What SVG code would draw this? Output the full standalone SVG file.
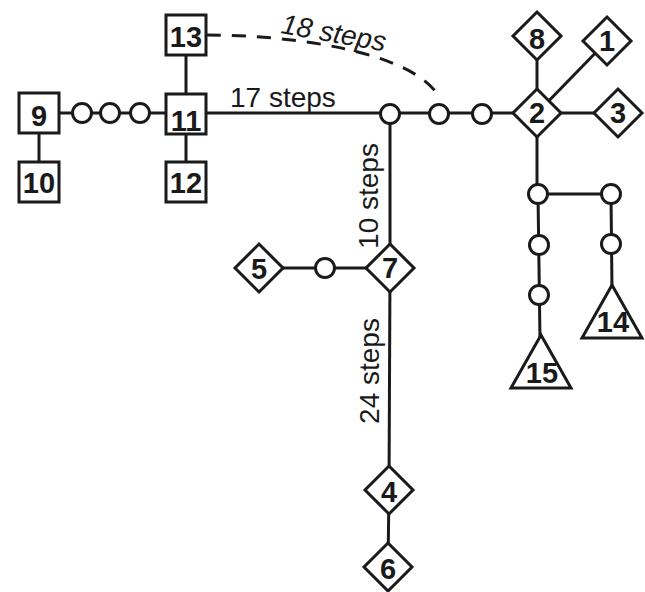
<svg xmlns="http://www.w3.org/2000/svg" width="645" height="592" viewBox="0 0 645 592">
<style>
.n{fill:#fff;stroke:#1a1a1a;stroke-width:3}
.e{stroke:#1a1a1a;stroke-width:3;fill:none}
.lb{font-family:"Liberation Sans",Arial,sans-serif;font-weight:bold;font-size:29px;fill:#1a1a1a;text-anchor:middle}
.st{font-family:"Liberation Sans",Arial,sans-serif;font-size:28px;fill:#1a1a1a}
</style>
<rect width="645" height="592" fill="#fff"/>
<g id="connectors">
<line class="e" x1="39" y1="113" x2="186" y2="113"/>
<line class="e" x1="39" y1="113" x2="39" y2="182"/>
<line class="e" x1="186" y1="35" x2="186" y2="182"/>
<line class="e" x1="186" y1="113" x2="537" y2="113"/>
<line class="e" x1="537" y1="36" x2="537" y2="194"/>
<line class="e" x1="537" y1="113" x2="607" y2="41"/>
<line class="e" x1="537" y1="113" x2="618" y2="113"/>
<line class="e" x1="538" y1="194" x2="611" y2="194"/>
<line class="e" x1="538" y1="194" x2="540" y2="340"/>
<line class="e" x1="611" y1="194" x2="612" y2="290"/>
<line class="e" x1="390" y1="113" x2="390" y2="268"/>
<line class="e" x1="259" y1="268" x2="390" y2="268"/>
<line class="e" x1="390" y1="268" x2="389" y2="490"/>
<line class="e" x1="389" y1="490" x2="388" y2="567"/>
<path class="e" d="M207,35 C295,35 410,52 438,95" stroke-dasharray="14,11"/>
<text class="st" x="378" y="196" text-anchor="middle" transform="rotate(-90 378 196)">10 steps</text>
<text class="st" x="379" y="371" text-anchor="middle" transform="rotate(-90 379 371)">24 steps</text>
<text class="st" x="230" y="107">17 steps</text>
<text class="st" x="280" y="33" font-style="italic" transform="rotate(10 280 33)">18 steps</text>
</g>
<g id="c1"><circle class="n" cx="82" cy="113" r="9.5"/></g>
<g id="c2"><circle class="n" cx="110" cy="113" r="9.5"/></g>
<g id="c3"><circle class="n" cx="140" cy="113" r="9.5"/></g>
<g id="c4"><circle class="n" cx="390" cy="114" r="9.5"/></g>
<g id="c5"><circle class="n" cx="439" cy="114" r="9.5"/></g>
<g id="c6"><circle class="n" cx="482" cy="114" r="9.5"/></g>
<g id="c7"><circle class="n" cx="538" cy="194" r="9.5"/></g>
<g id="c8"><circle class="n" cx="611" cy="194" r="9.5"/></g>
<g id="c9"><circle class="n" cx="539" cy="245" r="9.5"/></g>
<g id="c10"><circle class="n" cx="539" cy="295" r="9.5"/></g>
<g id="c11"><circle class="n" cx="611" cy="244" r="9.5"/></g>
<g id="c12"><circle class="n" cx="325" cy="268" r="9.5"/></g>
<g id="n9"><rect class="n" x="19" y="93" width="40" height="40"/><text class="lb" x="39" y="126">9</text></g>
<g id="n10"><rect class="n" x="19" y="162" width="40" height="40"/><text class="lb" x="39" y="193">10</text></g>
<g id="n11"><rect class="n" x="166" y="94" width="40" height="40"/><text class="lb" x="186" y="131">11</text></g>
<g id="n12"><rect class="n" x="166" y="162" width="40" height="40"/><text class="lb" x="186" y="193">12</text></g>
<g id="n13"><rect class="n" x="166" y="15" width="40" height="40"/><text class="lb" x="186" y="47">13</text></g>
<g id="n2"><polygon class="n" points="537,89 561,113 537,137 513,113"/><text class="lb" x="537" y="123" font-size="27">2</text></g>
<g id="n8"><polygon class="n" points="537,12 561,36 537,60 513,36"/><text class="lb" x="537" y="49" font-size="27">8</text></g>
<g id="n1"><polygon class="n" points="607,17 631,41 607,65 583,41"/><text class="lb" x="607" y="51" font-size="27">1</text></g>
<g id="n3"><polygon class="n" points="618,89 642,113 618,137 594,113"/><text class="lb" x="618" y="123" font-size="27">3</text></g>
<g id="n5"><polygon class="n" points="259,244 283,268 259,292 235,268"/><text class="lb" x="259" y="279" font-size="27">5</text></g>
<g id="n7"><polygon class="n" points="390,244 414,268 390,292 366,268"/><text class="lb" x="390" y="278" font-size="27">7</text></g>
<g id="n4"><polygon class="n" points="389,466 413,490 389,514 365,490"/><text class="lb" x="389" y="502" font-size="27">4</text></g>
<g id="n6"><polygon class="n" points="388,543 412,567 388,591 364,567"/><text class="lb" x="388" y="579" font-size="27">6</text></g>
<g id="n14"><polygon class="n" points="612,285 642,338 582,338"/><text class="lb" x="613" y="332" font-size="28">14</text></g>
<g id="n15"><polygon class="n" points="541,335 571,388 511,388"/><text class="lb" x="542" y="383" font-size="28">15</text></g>
</svg>
